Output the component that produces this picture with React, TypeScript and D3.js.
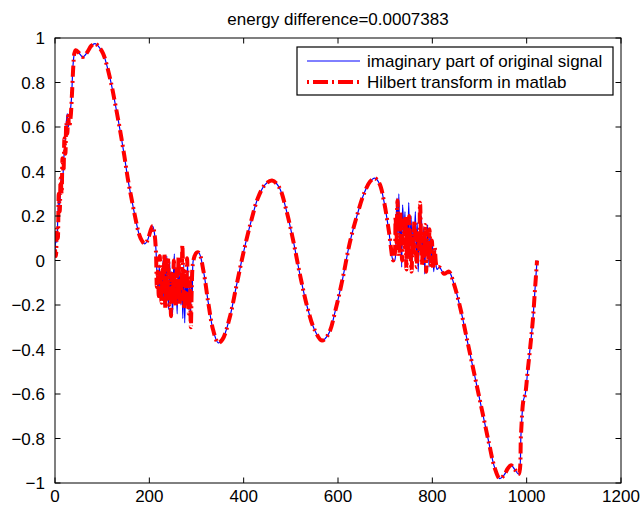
import React from "react";
import * as d3 from "d3";

// chart text
const title = "energy difference=0.0007383";
const legendLabels = ["imaginary part of original signal", "Hilbert transform in matlab"];
const xTicks = [0, 200, 400, 600, 800, 1000, 1200];
const yTicks = [-1, -0.8, -0.6, -0.4, -0.2, 0, 0.2, 0.4, 0.6, 0.8, 1];

// [sample, value]
const headBlue: [number, number][] = [
  [0, 0.03], [2, 0.12], [4, 0.08], [6, 0.2], [8, 0.28], [10, 0.25], [12, 0.33], [14, 0.38],
  [16, 0.36], [18, 0.43], [20, 0.5], [22, 0.55], [24, 0.62], [26, 0.66], [28, 0.6], [30, 0.62],
  [32, 0.66], [35, 0.73], [38, 0.87], [41, 0.93],
];
const headRed: [number, number][] = [
  [0, 0.05], [2, 0.02], [4, 0.15], [6, 0.1], [8, 0.3], [10, 0.22], [12, 0.37], [14, 0.3],
  [16, 0.46], [18, 0.4], [20, 0.55], [22, 0.48], [24, 0.62], [26, 0.57], [28, 0.65], [30, 0.6],
  [33, 0.64], [36, 0.75], [39, 0.88], [41, 0.93],
];
const bodyA: [number, number][] = [
  [44, 0.945], [50, 0.935], [59, 0.915], [68, 0.935], [77, 0.965], [85, 0.975], [93, 0.96],
  [102, 0.93], [116, 0.825], [128, 0.7], [138, 0.585], [147, 0.47], [155, 0.36], [163, 0.27],
  [170, 0.195], [178, 0.12], [184, 0.09], [190, 0.075], [196, 0.09], [202, 0.13], [207, 0.155],
  [211, 0.12],
];
const noiseABlue: [number, number][] = [
  [214, 0.05], [217, -0.1], [219, -0.14], [221, -0.02], [223, -0.15], [225, -0.05], [227, -0.12],
  [229, 0.0], [231, -0.2], [233, -0.03], [235, -0.18], [237, 0.02], [239, -0.1], [241, -0.22],
  [243, 0.0], [245, -0.15], [247, -0.05], [249, -0.25], [251, -0.08], [253, 0.03], [255, -0.18],
  [257, -0.1], [259, -0.24], [261, -0.02], [263, -0.15], [265, -0.05], [267, -0.2], [269, -0.08],
  [271, -0.26], [273, -0.02], [275, -0.28], [277, -0.1], [279, -0.2], [281, 0.0], [283, -0.22],
  [285, -0.12], [287, -0.28], [289, -0.05], [291, -0.15], [293, 0.0], [296, 0.02],
];
const noiseARed: [number, number][] = [
  [214, 0.04], [216, -0.12], [218, -0.05], [220, -0.16], [222, 0.02], [224, -0.1], [226, -0.19],
  [228, -0.04], [230, -0.14], [232, 0.03], [234, -0.22], [236, -0.08], [238, -0.15], [240, 0.01],
  [242, -0.2], [244, -0.1], [246, -0.25], [248, -0.06], [250, -0.17], [252, 0.0], [254, -0.12],
  [256, -0.21], [258, -0.04], [260, -0.16], [262, 0.02], [264, -0.2], [266, -0.09], [268, -0.14],
  [270, 0.07], [272, -0.1], [274, -0.22], [276, -0.05], [278, -0.18], [280, 0.01], [282, -0.14],
  [284, -0.24], [286, -0.08], [288, -0.3], [290, -0.12], [292, -0.02], [296, 0.02],
];
const bodyB: [number, number][] = [
  [300, 0.035], [305, 0.035], [315, -0.05], [325, -0.19], [335, -0.31], [346, -0.37], [355, -0.355],
  [370, -0.26], [385, -0.11], [400, 0.04], [415, 0.17], [430, 0.28], [445, 0.34], [460, 0.36],
  [475, 0.33], [490, 0.23], [505, 0.09], [520, -0.07], [535, -0.21], [550, -0.31], [566, -0.36],
  [580, -0.33], [595, -0.22], [610, -0.08], [625, 0.08], [640, 0.2], [655, 0.3], [668, 0.355],
  [678, 0.37], [688, 0.345], [698, 0.26], [708, 0.13], [717, 0.0],
];
const noiseBBlue: [number, number][] = [
  [720, 0.0], [723, 0.15], [725, 0.28], [727, 0.1], [729, 0.3], [731, 0.05], [733, 0.2],
  [735, -0.03], [737, 0.25], [740, 0.12], [742, 0.22], [744, 0.0], [746, 0.18], [748, 0.08],
  [750, 0.26], [752, 0.05], [755, 0.2], [757, -0.02], [759, 0.15], [761, 0.05], [764, 0.22],
  [766, 0.0], [768, 0.17], [770, -0.05], [773, 0.12], [775, 0.05], [777, 0.2], [779, 0.0],
  [782, 0.15], [784, -0.06], [786, 0.1], [788, 0.02], [790, 0.16], [793, -0.03], [795, 0.12],
  [798, 0.0], [800, 0.08], [803, -0.05], [806, 0.05], [810, -0.04],
];
const noiseBRed: [number, number][] = [
  [720, 0.02], [722, 0.2], [724, 0.08], [726, 0.27], [728, 0.12], [730, 0.02], [732, 0.22],
  [734, 0.1], [736, 0.0], [738, 0.18], [741, 0.06], [743, 0.2], [745, -0.04], [747, 0.14],
  [749, 0.03], [751, 0.2], [753, 0.08], [756, -0.05], [758, 0.12], [760, 0.02], [762, 0.18],
  [765, 0.06], [767, -0.03], [769, 0.14], [772, 0.04], [774, 0.26], [776, 0.1], [778, -0.02],
  [781, 0.12], [783, 0.02], [785, 0.16], [787, -0.05], [789, 0.1], [792, 0.0], [794, 0.14],
  [797, -0.02], [799, 0.09], [802, -0.04], [805, 0.06], [810, -0.03],
];
const tail: [number, number][] = [
  [815, -0.03], [825, -0.06], [835, -0.05], [845, -0.1], [860, -0.22], [875, -0.37],
  [890, -0.52], [905, -0.67], [920, -0.82], [932, -0.93], [943, -0.98], [952, -0.965],
  [960, -0.935], [967, -0.92], [975, -0.94], [983, -0.96], [988, -0.78], [993, -0.63],
  [997, -0.6], [1002, -0.5], [1008, -0.38], [1013, -0.27], [1018, -0.12], [1022, 0.0],
];

const blueSeries = [...headBlue, ...bodyA, ...noiseABlue, ...bodyB, ...noiseBBlue, ...tail];
const redSeries = [...headRed, ...bodyA, ...noiseARed, ...bodyB, ...noiseBRed, ...tail];

export default function App() {
  const width = 642;
  const height = 508;
  const margin = { top: 38, right: 21, bottom: 25, left: 55 };
  const x = d3.scaleLinear().domain([0, 1200]).range([margin.left, width - margin.right]);
  const y = d3.scaleLinear().domain([-1, 1]).range([height - margin.bottom, margin.top]);
  const x0 = x(0), x1 = x(1200), y0 = y(-1), y1 = y(1);
  const tick = 5.5;
  const fs = 17;
  const font = "'Liberation Sans', Arial, Helvetica, sans-serif";

  const line = d3
    .line<[number, number]>()
    .x((d) => x(d[0]))
    .y((d) => y(d[1]))
    .curve(d3.curveCatmullRom.alpha(0.5));

  const fmtY = (v: number) => (v === 0 ? "0" : d3.format("")(+v.toFixed(1)));

  // legend box
  const lg = { x: 297, y: 47, w: 316, h: 48 };

  return (
    <svg
      width={width}
      height={height}
      style={{ position: "absolute", left: 0, top: 0, background: "#fff" }}
      fontFamily={font}
    >
      <rect width={width} height={height} fill="#fff" />
      <text x={(x0 + x1) / 2} y={25} fontSize={fs} textAnchor="middle" fill="#000">
        {title}
      </text>

      <clipPath id="plotClip">
        <rect x={x0} y={y1} width={x1 - x0} height={y0 - y1} />
      </clipPath>

      <g clipPath="url(#plotClip)">
        <path d={line(blueSeries) || ""} fill="none" stroke="#0000ff" strokeWidth={1.2} />
        <path
          d={line(redSeries) || ""}
          fill="none"
          stroke="#ff0000"
          strokeWidth={4}
          strokeDasharray="11,4,2,4"
          strokeLinejoin="round"
        />
      </g>

      {/* axes box + ticks */}
      <g stroke="#000" strokeWidth={1} fill="none">
        <rect x={x0} y={y1} width={x1 - x0} height={y0 - y1} />
        {xTicks.map((t) => (
          <g key={"xt" + t}>
            <line x1={x(t)} x2={x(t)} y1={y0} y2={y0 - tick} />
            <line x1={x(t)} x2={x(t)} y1={y1} y2={y1 + tick} />
          </g>
        ))}
        {yTicks.map((t) => (
          <g key={"yt" + t}>
            <line x1={x0} x2={x0 + tick} y1={y(t)} y2={y(t)} />
            <line x1={x1} x2={x1 - tick} y1={y(t)} y2={y(t)} />
          </g>
        ))}
      </g>

      <g fontSize={fs} fill="#000">
        {xTicks.map((t) => (
          <text key={"xl" + t} x={x(t)} y={y0 + 19} textAnchor="middle">
            {t}
          </text>
        ))}
        {yTicks.map((t) => (
          <text key={"yl" + t} x={x0 - 10} y={y(t) + 6} textAnchor="end">
            {fmtY(t)}
          </text>
        ))}
      </g>

      {/* legend */}
      <g>
        <rect x={lg.x} y={lg.y} width={lg.w} height={lg.h} fill="#fff" stroke="#000" strokeWidth={1.2} />
        <line x1={307} x2={360} y1={lg.y + 14} y2={lg.y + 14} stroke="#0000ff" strokeWidth={1} />
        <line
          x1={307}
          x2={360}
          y1={lg.y + 35}
          y2={lg.y + 35}
          stroke="#ff0000"
          strokeWidth={4}
          strokeDasharray="2,4,15,4"
        />
        <text x={367} y={lg.y + 20} fontSize={fs} fill="#000">
          {legendLabels[0]}
        </text>
        <text x={367} y={lg.y + 41} fontSize={fs} fill="#000">
          {legendLabels[1]}
        </text>
      </g>
    </svg>
  );
}
